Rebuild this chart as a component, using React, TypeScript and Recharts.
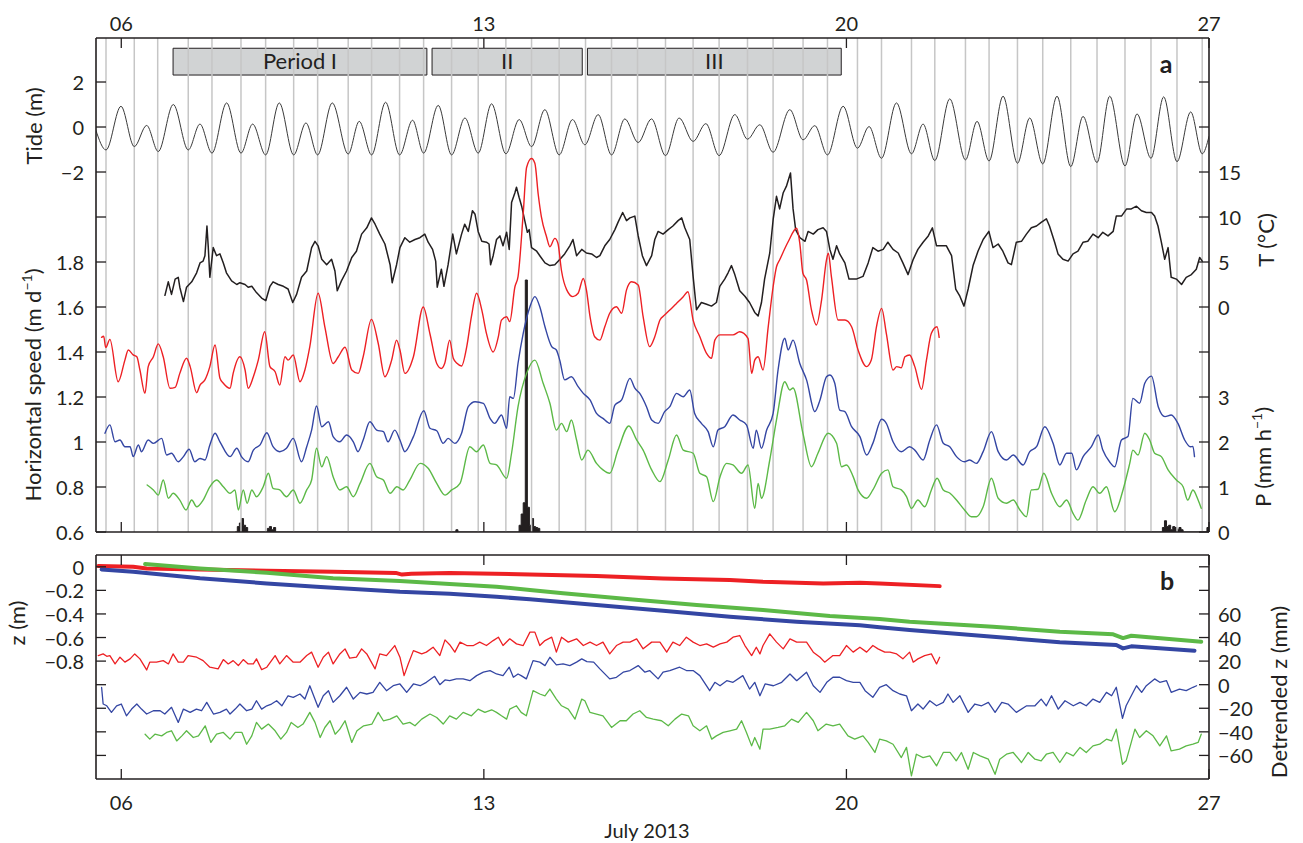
import React from 'react';
import { ComposedChart, Line, Area, XAxis, YAxis, ReferenceLine, ReferenceArea } from 'recharts';

const FONT = 'Lato, "Open Sans", sans-serif';
const INK = '#231f20';
const RED = '#ed2024';
const BLUE = '#3446a3';
const GREEN = '#5cb947';
const GRID = '#c6c6c6';

// x range (days of July 2013)
const X0 = 5.512;
const X1 = 27.0;
const dayTicks = [6, 13, 20, 27];

// low-tide times (gray vertical lines)
const lowTides = [5.705, 6.251, 6.703, 7.293, 7.751, 8.311, 8.787, 9.328, 9.791, 10.381, 10.833, 11.373, 11.837, 12.377, 12.891, 13.425, 13.921, 14.454, 14.963, 15.465, 15.967, 16.507, 17.04, 17.542, 18.09, 18.584, 19.163, 19.634, 20.213, 20.677, 21.256, 21.706, 22.298, 22.754, 23.302, 23.79, 24.331, 24.838, 25.378, 25.88, 26.382, 26.869];

const periodNames = ['Period I', 'II', 'III'];
const periodStart = [7.0, 12.0, 15.0];
const periodEnd = [11.9, 14.9, 19.9];

// tide extremes (day, m)
const tide: [number, number][] = [[5.506, -0.12], [5.705, -1.02], [5.994, 0.92], [6.251, -0.87], [6.49, 0.07], [6.714, -1.09], [7.004, 1.0], [7.293, -1.02], [7.519, 0.13], [7.751, -1.16], [8.034, 1.07], [8.311, -1.16], [8.536, 0.13], [8.787, -1.24], [9.05, 1.07], [9.328, -1.24], [9.565, 0.18], [9.791, -1.24], [10.073, 1.07], [10.381, -1.2], [10.594, 0.25], [10.833, -1.24], [11.103, 1.1], [11.373, -1.24], [11.624, 0.3], [11.837, -1.16], [12.119, 0.96], [12.377, -1.24], [12.634, 0.4], [12.891, -1.16], [13.149, 1.03], [13.425, -1.19], [13.682, 0.33], [13.921, -0.87], [14.178, 0.77], [14.454, -1.24], [14.712, 0.33], [14.95, -0.79], [15.207, 0.55], [15.465, -1.24], [15.722, 0.36], [15.979, -0.69], [16.237, 0.36], [16.507, -1.27], [16.77, 0.4], [17.04, -0.64], [17.286, 0.15], [17.542, -1.27], [17.845, 0.55], [18.09, -0.54], [18.328, 0.1], [18.584, -1.12], [18.907, 0.77], [19.163, -0.57], [19.389, 0.06], [19.634, -1.24], [19.936, 0.92], [20.213, -0.94], [20.437, 0.02], [20.677, -1.39], [20.966, 1.07], [21.256, -1.19], [21.48, 0.13], [21.706, -1.49], [21.995, 1.25], [22.298, -1.46], [22.522, 0.25], [22.754, -1.51], [23.024, 1.37], [23.302, -1.61], [23.539, 0.4], [23.79, -1.64], [24.066, 1.37], [24.331, -1.76], [24.568, 0.47], [24.838, -1.58], [25.083, 1.37], [25.378, -1.73], [25.61, 0.58], [25.88, -1.39], [26.125, 1.34], [26.382, -1.54], [26.647, 0.67], [26.869, -1.19], [27.0, -0.42]];

// water temperature (day, degC)
const temp: [number, number][] = [[6.843, 1.3], [6.907, 2.8], [6.97, 1.4], [7.04, 3.1], [7.1, 3.3], [7.13, 2.2], [7.2, 0.6], [7.26, 2.2], [7.36, 2.8], [7.455, 3.8], [7.52, 4.9], [7.58, 5.1], [7.615, 5.7], [7.654, 9.0], [7.68, 6.6], [7.71, 3.3], [7.775, 6.6], [7.84, 5.7], [7.905, 5.9], [7.97, 4.9], [8.03, 3.8], [8.13, 2.9], [8.23, 2.5], [8.29, 2.7], [8.39, 2.5], [8.45, 2.2], [8.52, 2.3], [8.61, 1.6], [8.71, 1.0], [8.79, 0.7], [8.87, 2.3], [8.93, 2.8], [9.03, 2.5], [9.13, 2.3], [9.22, 2.0], [9.31, 0.5], [9.385, 1.4], [9.48, 3.3], [9.58, 4.0], [9.675, 6.6], [9.74, 7.3], [9.8, 6.8], [9.87, 5.3], [9.965, 4.7], [10.06, 5.3], [10.125, 4.0], [10.17, 1.8], [10.25, 2.9], [10.35, 4.0], [10.45, 5.5], [10.54, 6.2], [10.64, 8.1], [10.74, 8.8], [10.83, 9.9], [10.9, 9.2], [10.99, 8.1], [11.09, 7.0], [11.19, 4.7], [11.23, 2.7], [11.315, 4.7], [11.38, 6.6], [11.475, 7.7], [11.57, 7.2], [11.67, 7.5], [11.765, 7.7], [11.86, 8.1], [11.925, 7.2], [12.01, 6.4], [12.07, 5.1], [12.1, 2.2], [12.18, 4.2], [12.23, 2.3], [12.31, 4.7], [12.4, 8.1], [12.47, 5.9], [12.57, 8.1], [12.63, 9.2], [12.7, 8.4], [12.78, 10.7], [12.83, 10.3], [12.89, 8.4], [12.96, 7.3], [13.05, 7.2], [13.1, 7.0], [13.13, 4.7], [13.18, 5.7], [13.245, 7.5], [13.31, 7.9], [13.37, 6.8], [13.44, 8.3], [13.49, 6.4], [13.535, 11.6], [13.6, 12.7], [13.63, 13.3], [13.68, 12.2], [13.73, 11.2], [13.79, 9.6], [13.84, 8.3], [13.875, 8.6], [13.92, 6.6], [14.02, 6.2], [14.08, 5.7], [14.18, 4.9], [14.275, 4.6], [14.37, 4.7], [14.47, 5.3], [14.56, 5.9], [14.66, 6.8], [14.72, 7.5], [14.79, 5.7], [14.89, 6.4], [14.98, 6.0], [15.08, 5.9], [15.175, 5.5], [15.24, 5.7], [15.335, 6.8], [15.43, 7.5], [15.53, 8.6], [15.59, 9.4], [15.68, 10.5], [15.755, 9.6], [15.82, 9.9], [15.915, 10.1], [15.98, 7.9], [16.06, 5.7], [16.14, 4.6], [16.24, 5.7], [16.3, 7.5], [16.365, 8.4], [16.46, 8.1], [16.56, 8.6], [16.65, 9.0], [16.75, 9.6], [16.82, 9.9], [16.88, 8.8], [16.975, 7.5], [17.04, 3.4], [17.105, -0.3], [17.2, 0.5], [17.3, 0.3], [17.395, 0.1], [17.49, 0.5], [17.555, 2.3], [17.65, 3.1], [17.715, 3.8], [17.78, 4.6], [17.845, 3.6], [17.94, 1.8], [18.04, 1.2], [18.13, 0.5], [18.23, -0.6], [18.295, -1.0], [18.36, 0.5], [18.42, 3.1], [18.52, 6.0], [18.585, 9.7], [18.65, 12.3], [18.71, 10.9], [18.78, 12.7], [18.84, 13.4], [18.92, 14.9], [18.97, 10.9], [19.02, 8.6], [19.1, 7.7], [19.2, 7.3], [19.26, 8.4], [19.36, 8.1], [19.45, 8.6], [19.55, 8.8], [19.615, 8.4], [19.68, 6.4], [19.74, 5.3], [19.81, 6.8], [19.87, 5.9], [19.97, 4.9], [20.05, 3.1], [20.19, 3.1], [20.32, 3.4], [20.42, 4.9], [20.51, 6.6], [20.61, 6.2], [20.71, 6.4], [20.8, 7.2], [20.9, 6.4], [21.0, 6.0], [21.09, 4.9], [21.19, 3.6], [21.29, 5.3], [21.38, 6.4], [21.48, 7.2], [21.58, 7.9], [21.66, 8.8], [21.74, 6.8], [21.83, 6.8], [21.93, 6.8], [22.03, 5.7], [22.11, 2.0], [22.19, 1.2], [22.27, 0.1], [22.35, 2.0], [22.445, 4.6], [22.54, 6.2], [22.64, 7.5], [22.75, 8.4], [22.83, 6.6], [22.93, 7.0], [23.02, 6.2], [23.12, 4.9], [23.185, 4.7], [23.28, 7.2], [23.38, 7.3], [23.475, 8.1], [23.57, 8.8], [23.67, 9.0], [23.76, 9.4], [23.86, 9.8], [23.92, 9.0], [24.02, 7.2], [24.085, 5.9], [24.18, 5.3], [24.28, 5.1], [24.375, 5.9], [24.47, 6.2], [24.57, 7.2], [24.66, 7.3], [24.76, 8.1], [24.86, 7.7], [24.95, 8.3], [25.05, 7.9], [25.15, 8.4], [25.21, 10.1], [25.31, 10.1], [25.41, 10.9], [25.5, 10.9], [25.6, 11.2], [25.695, 10.7], [25.79, 10.5], [25.89, 10.5], [25.95, 10.1], [26.015, 9.0], [26.08, 7.2], [26.145, 5.3], [26.21, 6.6], [26.27, 3.3], [26.37, 3.1], [26.47, 2.5], [26.56, 3.3], [26.66, 3.6], [26.755, 4.2], [26.82, 5.5], [26.87, 5.1]];

// horizontal speed (day, m/d)
const speedRed: [number, number][] = [[5.62, 1.465], [5.66, 1.47], [5.7, 1.42], [5.78, 1.456], [5.94, 1.268], [6.07, 1.364], [6.135, 1.409], [6.23, 1.387], [6.3, 1.379], [6.36, 1.32], [6.457, 1.216], [6.52, 1.335], [6.62, 1.379], [6.714, 1.436], [6.81, 1.379], [6.94, 1.239], [7.04, 1.243], [7.13, 1.305], [7.26, 1.372], [7.33, 1.335], [7.455, 1.219], [7.52, 1.253], [7.615, 1.276], [7.71, 1.335], [7.81, 1.431], [7.905, 1.283], [7.97, 1.261], [8.1, 1.239], [8.16, 1.305], [8.29, 1.379], [8.39, 1.32], [8.45, 1.239], [8.55, 1.29], [8.645, 1.364], [8.77, 1.49], [8.87, 1.335], [8.97, 1.312], [9.06, 1.253], [9.16, 1.379], [9.22, 1.364], [9.32, 1.387], [9.45, 1.268], [9.545, 1.32], [9.64, 1.424], [9.8, 1.661], [9.93, 1.512], [10.09, 1.349], [10.19, 1.379], [10.32, 1.421], [10.45, 1.32], [10.575, 1.305], [10.67, 1.379], [10.83, 1.545], [10.96, 1.439], [11.09, 1.29], [11.22, 1.364], [11.315, 1.453], [11.38, 1.409], [11.475, 1.305], [11.64, 1.379], [11.83, 1.6], [11.96, 1.48], [12.09, 1.349], [12.18, 1.327], [12.245, 1.35], [12.34, 1.453], [12.41, 1.372], [12.48, 1.35], [12.57, 1.338], [12.67, 1.424], [12.76, 1.557], [12.86, 1.661], [12.96, 1.587], [13.05, 1.483], [13.18, 1.4], [13.28, 1.468], [13.34, 1.542], [13.44, 1.557], [13.5, 1.535], [13.6, 1.69], [13.66, 1.735], [13.76, 2.016], [13.825, 2.22], [13.92, 2.26], [13.985, 2.239], [14.05, 2.1], [14.11, 2.002], [14.21, 1.912], [14.275, 1.868], [14.37, 1.905], [14.43, 1.883], [14.5, 1.76], [14.6, 1.676], [14.72, 1.646], [14.82, 1.661], [14.92, 1.727], [14.98, 1.676], [15.05, 1.557], [15.14, 1.468], [15.24, 1.453], [15.335, 1.512], [15.43, 1.572], [15.56, 1.601], [15.66, 1.572], [15.755, 1.676], [15.85, 1.712], [15.98, 1.698], [16.075, 1.557], [16.2, 1.424], [16.3, 1.468], [16.4, 1.542], [16.49, 1.564], [16.59, 1.587], [16.72, 1.616], [16.85, 1.646], [16.94, 1.668], [17.04, 1.542], [17.17, 1.468], [17.3, 1.394], [17.395, 1.372], [17.46, 1.453], [17.56, 1.476], [17.685, 1.476], [17.81, 1.476], [17.94, 1.49], [18.1, 1.461], [18.17, 1.305], [18.23, 1.364], [18.295, 1.379], [18.39, 1.32], [18.49, 1.512], [18.585, 1.69], [18.65, 1.779], [18.71, 1.809], [18.875, 1.89], [19.04, 1.95], [19.1, 1.883], [19.16, 1.75], [19.23, 1.72], [19.325, 1.587], [19.42, 1.52], [19.52, 1.631], [19.615, 1.809], [19.65, 1.839], [19.71, 1.735], [19.84, 1.542], [19.97, 1.542], [20.1, 1.512], [20.225, 1.409], [20.39, 1.335], [20.48, 1.364], [20.58, 1.512], [20.68, 1.594], [20.77, 1.483], [20.9, 1.32], [20.97, 1.335], [21.06, 1.33], [21.13, 1.379], [21.22, 1.387], [21.32, 1.335], [21.45, 1.234], [21.545, 1.364], [21.64, 1.483], [21.75, 1.512], [21.79, 1.465]];

const speedBlue: [number, number][] = [[5.685, 1.039], [5.78, 1.076], [5.88, 1.001], [5.975, 1.009], [6.07, 0.979], [6.17, 0.979], [6.23, 0.935], [6.33, 0.987], [6.39, 0.957], [6.52, 1.009], [6.62, 0.994], [6.78, 1.016], [6.875, 0.942], [6.97, 0.95], [7.1, 0.912], [7.2, 0.935], [7.31, 0.968], [7.42, 0.912], [7.52, 0.927], [7.615, 0.92], [7.71, 0.987], [7.81, 1.039], [7.905, 1.001], [8.1, 0.935], [8.23, 0.972], [8.32, 0.935], [8.45, 0.912], [8.55, 0.964], [8.68, 0.987], [8.81, 1.041], [8.93, 0.979], [9.06, 0.957], [9.19, 0.972], [9.32, 1.016], [9.48, 0.912], [9.58, 0.979], [9.675, 1.053], [9.77, 1.16], [9.87, 1.068], [10.0, 1.09], [10.09, 1.024], [10.22, 1.001], [10.35, 1.031], [10.48, 1.001], [10.57, 0.957], [10.67, 1.009], [10.8, 1.09], [10.93, 1.053], [11.06, 1.046], [11.15, 1.001], [11.28, 1.053], [11.38, 1.009], [11.475, 0.957], [11.64, 1.024], [11.84, 1.139], [11.96, 1.061], [12.09, 1.05], [12.215, 0.994], [12.31, 1.016], [12.44, 0.994], [12.57, 1.039], [12.7, 1.157], [12.83, 1.179], [12.99, 1.172], [13.12, 1.105], [13.21, 1.083], [13.34, 1.12], [13.44, 1.061], [13.5, 1.201], [13.57, 1.194], [13.66, 1.35], [13.76, 1.483], [13.89, 1.601], [13.985, 1.646], [14.08, 1.601], [14.18, 1.512], [14.31, 1.424], [14.4, 1.409], [14.465, 1.364], [14.56, 1.276], [14.69, 1.29], [14.82, 1.246], [14.92, 1.216], [15.05, 1.187], [15.175, 1.127], [15.3, 1.105], [15.43, 1.083], [15.53, 1.164], [15.66, 1.187], [15.82, 1.283], [15.915, 1.239], [16.01, 1.216], [16.14, 1.157], [16.24, 1.098], [16.365, 1.083], [16.49, 1.135], [16.59, 1.157], [16.72, 1.216], [16.85, 1.201], [16.975, 1.231], [17.07, 1.127], [17.2, 1.083], [17.33, 1.046], [17.43, 0.979], [17.52, 1.053], [17.65, 1.068], [17.81, 1.12], [17.94, 1.098], [18.07, 1.076], [18.2, 0.972], [18.26, 1.053], [18.36, 0.972], [18.46, 1.053], [18.585, 1.127], [18.68, 1.32], [18.81, 1.461], [18.875, 1.409], [18.97, 1.453], [19.1, 1.349], [19.23, 1.276], [19.39, 1.135], [19.49, 1.187], [19.615, 1.29], [19.68, 1.298], [19.775, 1.261], [19.87, 1.142], [19.97, 1.135], [20.1, 1.068], [20.26, 1.024], [20.39, 0.942], [20.51, 0.994], [20.68, 1.101], [20.77, 1.083], [20.9, 1.001], [21.06, 0.957], [21.22, 0.979], [21.32, 0.964], [21.48, 0.92], [21.61, 1.009], [21.74, 1.076], [21.87, 0.994], [21.995, 0.979], [22.125, 0.935], [22.28, 0.912], [22.38, 0.92], [22.51, 0.905], [22.64, 0.957], [22.8, 1.046], [22.93, 0.957], [23.09, 0.92], [23.22, 0.942], [23.41, 0.898], [23.54, 0.957], [23.67, 0.979], [23.83, 1.068], [23.99, 0.994], [24.12, 0.898], [24.25, 0.95], [24.35, 0.95], [24.44, 0.876], [24.57, 0.935], [24.73, 0.979], [24.86, 1.031], [24.95, 0.964], [25.08, 0.912], [25.18, 0.89], [25.31, 1.009], [25.435, 1.024], [25.53, 1.194], [25.66, 1.172], [25.76, 1.261], [25.89, 1.293], [26.02, 1.157], [26.15, 1.113], [26.27, 1.12], [26.4, 1.083], [26.53, 1.009], [26.64, 0.979], [26.69, 0.98], [26.72, 0.935]];

const speedGreen: [number, number][] = [[6.5, 0.809], [6.62, 0.787], [6.714, 0.764], [6.81, 0.831], [6.91, 0.75], [7.0, 0.772], [7.13, 0.742], [7.25, 0.698], [7.36, 0.742], [7.455, 0.712], [7.58, 0.742], [7.71, 0.801], [7.84, 0.831], [7.97, 0.801], [8.1, 0.772], [8.195, 0.787], [8.26, 0.698], [8.355, 0.787], [8.43, 0.728], [8.52, 0.787], [8.61, 0.757], [8.74, 0.801], [8.84, 0.861], [8.93, 0.794], [9.06, 0.787], [9.19, 0.757], [9.32, 0.787], [9.45, 0.728], [9.58, 0.787], [9.675, 0.831], [9.77, 0.972], [9.87, 0.89], [9.965, 0.935], [10.09, 0.846], [10.22, 0.787], [10.35, 0.801], [10.48, 0.757], [10.61, 0.816], [10.8, 0.905], [10.93, 0.846], [11.06, 0.831], [11.19, 0.772], [11.32, 0.801], [11.44, 0.787], [11.57, 0.831], [11.77, 0.905], [11.925, 0.883], [12.09, 0.816], [12.25, 0.764], [12.38, 0.787], [12.54, 0.816], [12.73, 0.979], [12.86, 0.957], [12.99, 0.987], [13.12, 0.905], [13.245, 0.898], [13.44, 0.839], [13.535, 0.95], [13.66, 1.157], [13.825, 1.305], [13.985, 1.364], [14.145, 1.261], [14.275, 1.172], [14.4, 1.053], [14.5, 1.083], [14.6, 1.046], [14.69, 1.098], [14.79, 1.009], [14.89, 0.92], [15.01, 0.964], [15.175, 0.905], [15.3, 0.876], [15.43, 0.861], [15.59, 0.964], [15.8, 1.071], [15.95, 1.009], [16.075, 0.964], [16.24, 0.876], [16.4, 0.824], [16.56, 0.92], [16.72, 1.031], [16.85, 0.964], [17.04, 0.95], [17.17, 0.861], [17.3, 0.846], [17.43, 0.735], [17.56, 0.846], [17.685, 0.905], [17.81, 0.898], [17.975, 0.861], [18.1, 0.898], [18.23, 0.705], [18.295, 0.816], [18.36, 0.75], [18.52, 0.92], [18.65, 1.098], [18.81, 1.268], [18.905, 1.231], [18.97, 1.24], [19.16, 1.039], [19.325, 0.89], [19.45, 0.95], [19.645, 1.039], [19.81, 0.994], [19.905, 0.89], [20.0, 0.898], [20.13, 0.846], [20.225, 0.787], [20.39, 0.75], [20.51, 0.787], [20.68, 0.861], [20.8, 0.876], [20.9, 0.801], [21.06, 0.787], [21.16, 0.757], [21.255, 0.705], [21.38, 0.742], [21.51, 0.712], [21.64, 0.787], [21.75, 0.839], [21.87, 0.787], [22.0, 0.772], [22.125, 0.742], [22.28, 0.698], [22.41, 0.668], [22.51, 0.668], [22.64, 0.712], [22.8, 0.839], [22.93, 0.75], [23.09, 0.728], [23.22, 0.742], [23.35, 0.698], [23.475, 0.668], [23.57, 0.787], [23.7, 0.79], [23.81, 0.861], [23.96, 0.772], [24.12, 0.712], [24.25, 0.742], [24.375, 0.683], [24.47, 0.653], [24.63, 0.742], [24.76, 0.801], [24.89, 0.772], [25.02, 0.801], [25.18, 0.69], [25.34, 0.787], [25.47, 0.905], [25.53, 0.964], [25.63, 0.942], [25.76, 1.039], [25.855, 1.009], [25.95, 0.95], [26.08, 0.935], [26.21, 0.876], [26.37, 0.831], [26.5, 0.801], [26.59, 0.742], [26.69, 0.787], [26.79, 0.742], [26.85, 0.705]];

// precipitation, hourly steps (day, mm/h)
const rain: [number, number][] = [[8.2, 0], [8.24, 0.12], [8.28, 0.2], [8.32, 0.3], [8.36, 0.15], [8.4, 0.1], [8.44, 0], [8.82, 0.08], [8.86, 0.12], [8.9, 0.05], [8.94, 0.1], [8.98, 0], [12.46, 0.05], [12.5, 0], [13.68, 0.15], [13.72, 0.4], [13.76, 0.65], [13.8, 5.6], [13.84, 0.55], [13.88, 0.15], [13.92, 0.3], [13.96, 0.12], [14.0, 0.1], [14.04, 0.08], [14.08, 0], [26.1, 0.1], [26.14, 0.25], [26.18, 0.12], [26.22, 0.15], [26.26, 0.05], [26.3, 0.12], [26.34, 0.1], [26.38, 0.05], [26.42, 0.1], [26.46, 0.05], [26.5, 0], [26.96, 0.1], [27.0, 0]];

// panel b: surface elevation z (day, m)
const zRed: [number, number][] = [[5.556, 0.006], [6.23, 0.0], [6.49, -0.014], [7.52, -0.022], [8.81, -0.034], [10.09, -0.042], [11.3, -0.052], [11.42, -0.066], [11.6, -0.06], [12.34, -0.052], [13.89, -0.065], [15.175, -0.079], [16.46, -0.099], [17.75, -0.113], [18.39, -0.127], [19.55, -0.141], [20.26, -0.136], [20.64, -0.141], [21.8, -0.164]];
const zGreen: [number, number][] = [[6.46, 0.023], [7.52, -0.014], [8.81, -0.051], [10.09, -0.098], [11.38, -0.12], [12.34, -0.145], [13.245, -0.169], [13.89, -0.197], [14.53, -0.225], [15.82, -0.276], [17.11, -0.325], [18.39, -0.367], [19.68, -0.418], [20.64, -0.443], [21.22, -0.466], [22.83, -0.508], [24.12, -0.551], [25.15, -0.573], [25.34, -0.605], [25.5, -0.585], [26.85, -0.636]];
const zBlue: [number, number][] = [[5.62, -0.022], [6.23, -0.042], [7.52, -0.098], [8.81, -0.141], [9.77, -0.169], [11.38, -0.212], [12.34, -0.228], [13.245, -0.254], [13.89, -0.276], [15.175, -0.325], [16.46, -0.373], [17.75, -0.424], [19.04, -0.466], [20.26, -0.495], [20.64, -0.512], [21.22, -0.536], [22.83, -0.593], [24.12, -0.641], [25.21, -0.664], [25.34, -0.692], [25.5, -0.675], [26.72, -0.712]];

// panel b: detrended z (day, mm)
const detRed: [number, number][] = [[5.556, 24.7], [5.65, 26.1], [5.72, 24.1], [5.78, 24.7], [5.88, 17.6], [5.975, 23.3], [6.07, 19.1], [6.17, 21.9], [6.26, 26.1], [6.36, 21.9], [6.49, 12.5], [6.55, 19.1], [6.68, 19.1], [6.81, 20.4], [6.91, 17.6], [7.0, 26.1], [7.1, 19.1], [7.2, 19.1], [7.29, 24.7], [7.455, 23.3], [7.58, 20.4], [7.71, 14.8], [7.87, 13.4], [7.97, 21.3], [8.065, 17.6], [8.16, 20.4], [8.26, 16.2], [8.355, 21.3], [8.45, 17.6], [8.55, 17.6], [8.61, 21.9], [8.71, 12.8], [8.81, 14.8], [8.97, 24.7], [9.06, 17.6], [9.19, 24.7], [9.32, 19.1], [9.45, 19.1], [9.58, 24.7], [9.675, 27.6], [9.8, 14.8], [9.9, 23.3], [10.0, 27.6], [10.09, 17.6], [10.22, 26.1], [10.32, 30.4], [10.41, 22.5], [10.54, 23.3], [10.64, 30.4], [10.74, 26.1], [10.9, 13.4], [10.99, 26.1], [11.12, 24.7], [11.28, 33.2], [11.38, 23.3], [11.46, 7.7], [11.54, 17.6], [11.64, 28.9], [11.8, 26.1], [11.89, 27.6], [12.02, 31.8], [12.15, 24.7], [12.25, 38.0], [12.34, 33.9], [12.44, 27.6], [12.54, 36.1], [12.67, 33.2], [12.8, 33.2], [12.92, 36.1], [13.05, 33.2], [13.18, 37.4], [13.28, 40.3], [13.37, 33.2], [13.5, 38.9], [13.63, 34.6], [13.76, 33.2], [13.89, 44.6], [13.985, 44.6], [14.08, 33.2], [14.18, 37.4], [14.31, 40.3], [14.4, 27.6], [14.5, 40.3], [14.63, 36.1], [14.79, 38.9], [14.92, 33.2], [15.05, 36.1], [15.175, 33.2], [15.3, 36.1], [15.43, 26.1], [15.56, 33.2], [15.69, 36.1], [15.82, 36.1], [15.95, 38.9], [16.075, 30.4], [16.24, 36.1], [16.4, 36.1], [16.53, 27.6], [16.65, 36.1], [16.78, 33.2], [16.91, 40.3], [17.04, 36.1], [17.17, 33.2], [17.3, 34.6], [17.43, 31.8], [17.56, 34.6], [17.69, 36.1], [17.81, 40.3], [17.94, 41.7], [18.04, 33.2], [18.17, 24.7], [18.26, 31.8], [18.33, 26.1], [18.39, 33.2], [18.52, 43.1], [18.65, 36.1], [18.78, 30.4], [18.91, 38.9], [19.04, 36.1], [19.23, 36.1], [19.36, 27.6], [19.49, 23.3], [19.58, 19.1], [19.74, 24.7], [19.87, 24.7], [20.0, 33.2], [20.13, 27.6], [20.26, 31.8], [20.39, 27.6], [20.51, 33.2], [20.61, 30.4], [20.74, 27.6], [20.84, 27.6], [20.97, 26.1], [21.09, 21.9], [21.22, 27.6], [21.29, 19.1], [21.38, 21.9], [21.51, 24.7], [21.64, 26.1], [21.74, 17.6], [21.8, 23.3]];

const detBlue: [number, number][] = [[5.62, -2.2], [5.65, -16.4], [5.72, -17.9], [5.81, -23.5], [5.91, -17.9], [6.0, -16.4], [6.1, -26.4], [6.2, -20.7], [6.3, -16.4], [6.39, -20.7], [6.49, -24.9], [6.62, -22.1], [6.75, -22.1], [6.84, -24.9], [6.97, -19.2], [7.1, -32.0], [7.2, -20.7], [7.33, -23.5], [7.45, -20.7], [7.55, -22.1], [7.65, -15.0], [7.78, -24.9], [7.905, -23.5], [8.03, -20.7], [8.1, -24.9], [8.2, -20.7], [8.29, -16.4], [8.42, -22.1], [8.52, -20.7], [8.61, -13.6], [8.71, -20.7], [8.81, -17.9], [8.9, -16.4], [9.0, -13.6], [9.1, -17.9], [9.22, -9.4], [9.32, -10.7], [9.45, -7.9], [9.545, -12.2], [9.64, -0.9], [9.8, -19.2], [9.9, -9.4], [10.0, -5.1], [10.09, -15.0], [10.22, -9.4], [10.35, -2.2], [10.48, -12.2], [10.61, -6.5], [10.74, -7.9], [10.86, -6.5], [10.99, 2.0], [11.12, -5.1], [11.25, -0.9], [11.38, 0.6], [11.51, -6.5], [11.64, 0.6], [11.77, -0.9], [11.89, 2.0], [12.05, 7.1], [12.15, 0.0], [12.25, 4.0], [12.34, 3.4], [12.47, 4.9], [12.6, 4.9], [12.73, 3.4], [12.86, 7.7], [12.99, 10.6], [13.12, 11.9], [13.245, 9.1], [13.37, 7.7], [13.49, 14.8], [13.57, 6.3], [13.66, 9.1], [13.72, 7.7], [13.82, 4.9], [13.95, 20.4], [14.08, 19.1], [14.18, 16.2], [14.275, 23.3], [14.4, 16.8], [14.53, 17.6], [14.66, 16.2], [14.79, 19.1], [14.89, 21.9], [14.99, 19.6], [15.12, 19.1], [15.24, 13.4], [15.43, 4.9], [15.56, 6.3], [15.69, 10.6], [15.82, 12.0], [15.98, 16.2], [16.11, 10.6], [16.2, 12.0], [16.365, 4.9], [16.46, 10.6], [16.59, 12.0], [16.78, 14.8], [16.91, 12.0], [17.04, 12.0], [17.17, 7.7], [17.36, -5.1], [17.46, 2.0], [17.56, -0.9], [17.69, 3.4], [17.81, 2.0], [18.0, 7.7], [18.13, -3.7], [18.23, 2.0], [18.33, -9.4], [18.43, 0.6], [18.59, -0.9], [18.75, 2.0], [18.91, 9.1], [19.04, 3.4], [19.23, 10.6], [19.36, -0.9], [19.49, -6.5], [19.62, 2.0], [19.74, 6.3], [19.87, 6.3], [20.0, 3.4], [20.13, 2.0], [20.26, 2.0], [20.36, -5.1], [20.51, -10.7], [20.64, -2.2], [20.77, 0.0], [20.9, -5.1], [21.03, -7.9], [21.16, -9.4], [21.255, -22.1], [21.38, -16.4], [21.48, -20.7], [21.61, -13.6], [21.74, -17.9], [21.87, -15.0], [21.96, -7.9], [22.06, -15.0], [22.19, -9.4], [22.35, -23.5], [22.48, -16.4], [22.61, -17.9], [22.74, -15.0], [22.87, -23.5], [23.0, -15.0], [23.12, -16.4], [23.28, -23.5], [23.48, -17.9], [23.64, -17.9], [23.76, -12.2], [23.86, -17.9], [23.96, -9.4], [24.09, -20.7], [24.22, -13.6], [24.38, -17.9], [24.51, -15.0], [24.63, -17.9], [24.76, -12.2], [24.89, -15.0], [25.02, -6.5], [25.12, -9.4], [25.21, -2.2], [25.33, -28.6], [25.4, -17.9], [25.6, -0.9], [25.7, -6.5], [25.79, -0.9], [25.95, 4.9], [26.05, 2.0], [26.18, 3.4], [26.27, -6.5], [26.43, -3.7], [26.56, -5.1], [26.69, -2.2], [26.76, -0.9]];

const detGreen: [number, number][] = [[6.46, -42.0], [6.55, -46.2], [6.65, -42.0], [6.78, -43.4], [6.875, -40.5], [6.97, -39.1], [7.07, -47.7], [7.17, -43.4], [7.26, -39.1], [7.39, -44.8], [7.49, -43.4], [7.62, -34.9], [7.73, -49.0], [7.84, -42.0], [7.97, -40.5], [8.1, -46.2], [8.2, -40.5], [8.33, -40.5], [8.42, -50.5], [8.52, -43.4], [8.61, -32.0], [8.71, -37.7], [8.84, -33.4], [8.97, -39.1], [9.08, -46.2], [9.19, -40.5], [9.28, -32.0], [9.41, -36.3], [9.51, -33.4], [9.64, -23.5], [9.74, -32.0], [9.84, -44.8], [9.93, -36.3], [10.03, -30.6], [10.13, -42.0], [10.22, -37.7], [10.32, -30.6], [10.45, -49.0], [10.55, -39.1], [10.68, -34.9], [10.84, -33.4], [10.96, -23.5], [11.06, -30.6], [11.19, -29.2], [11.32, -26.4], [11.44, -33.4], [11.57, -32.0], [11.67, -34.9], [11.8, -29.2], [11.96, -24.9], [12.09, -27.8], [12.215, -33.4], [12.34, -26.4], [12.47, -29.2], [12.6, -23.5], [12.76, -26.4], [12.89, -20.7], [13.02, -23.5], [13.15, -21.3], [13.245, -23.5], [13.34, -26.4], [13.44, -29.2], [13.5, -20.7], [13.63, -17.9], [13.72, -23.5], [13.82, -26.4], [13.95, -5.1], [14.08, -7.9], [14.18, -9.4], [14.275, -3.7], [14.4, -12.2], [14.5, -17.9], [14.63, -20.7], [14.76, -29.2], [14.89, -12.2], [14.95, -13.6], [15.05, -23.5], [15.175, -24.9], [15.3, -26.4], [15.465, -36.3], [15.63, -30.6], [15.75, -30.6], [15.88, -24.9], [16.01, -22.1], [16.14, -27.8], [16.27, -29.2], [16.43, -30.6], [16.56, -34.9], [16.69, -29.2], [16.82, -24.9], [16.95, -26.4], [17.04, -34.9], [17.17, -39.1], [17.3, -34.9], [17.4, -46.2], [17.49, -43.4], [17.62, -40.5], [17.75, -39.1], [17.88, -37.7], [17.975, -30.6], [18.07, -40.5], [18.17, -51.9], [18.23, -44.8], [18.33, -54.7], [18.39, -37.7], [18.52, -37.7], [18.68, -36.3], [18.81, -34.9], [18.94, -29.2], [19.07, -32.0], [19.23, -23.5], [19.36, -30.6], [19.45, -39.1], [19.61, -33.4], [19.74, -34.9], [19.87, -33.4], [20.03, -43.4], [20.16, -46.2], [20.32, -43.4], [20.42, -49.0], [20.55, -57.5], [20.64, -46.2], [20.77, -47.7], [20.9, -50.5], [21.06, -61.8], [21.16, -53.2], [21.255, -77.4], [21.35, -59.0], [21.48, -61.8], [21.61, -60.4], [21.74, -68.9], [21.87, -57.5], [22.0, -57.5], [22.12, -64.6], [22.22, -57.5], [22.35, -71.7], [22.45, -57.5], [22.58, -60.4], [22.74, -63.2], [22.87, -76.0], [22.96, -63.2], [23.09, -59.0], [23.22, -57.5], [23.38, -66.0], [23.51, -57.5], [23.64, -63.2], [23.76, -64.6], [23.86, -59.0], [23.99, -57.5], [24.12, -66.0], [24.25, -57.5], [24.38, -60.4], [24.51, -53.2], [24.63, -57.5], [24.76, -51.9], [24.89, -50.5], [25.02, -46.2], [25.12, -47.7], [25.21, -37.7], [25.33, -67.5], [25.4, -64.6], [25.57, -37.7], [25.66, -44.8], [25.79, -39.1], [25.92, -43.4], [26.05, -51.9], [26.18, -43.4], [26.27, -56.2], [26.43, -54.7], [26.56, -51.9], [26.69, -50.5], [26.79, -49.0], [26.85, -42.0]];

// axis ticks
const speedTicks = [0.6, 0.8, 1, 1.2, 1.4, 1.6, 1.8, 2.0];
const tideTicks = [-2, 0, 2];
const rainTicks = [0, 1, 2, 3];
const tempTicks = [-5, 0, 5, 10, 15, 20, 25];
const zTicks = [0, -0.2, -0.4, -0.6, -0.8, -1.0, -1.2, -1.4, -1.6];
const detTicks = [-60, -40, -20, 0, 20, 40, 60, 80, 100];

// shared scales of panel a: tide and temperature share the speed / rain axes
const tideToSpeed = (t: number) => 2.4 + t / 10;
const tempToRain = (t: number) => 5 + t / 5;

const pts = (a: [number, number][]) => a.map(([d, v]) => ({ d, v }));
const minus = (s: string) => s.replace('-', '\u2212');

const txt = { fontFamily: FONT, fontSize: 20, fill: INK };
const TL = 10;

const leftTick = (fmt: (v: number) => string, gap: number) => (p: any) => (
  <g>
    <line x1={p.x + gap} x2={p.x + gap + TL} y1={p.y} y2={p.y} stroke={INK} strokeWidth={1.3} />
    <text x={p.x} y={p.y} textAnchor="end" dominantBaseline="central" {...txt}>{fmt(p.payload.value)}</text>
  </g>
);
const rightTick = (fmt: (v: number) => string, gap: number) => (p: any) => (
  <g>
    <line x1={p.x - gap} x2={p.x - gap - TL} y1={p.y} y2={p.y} stroke={INK} strokeWidth={1.3} />
    <text x={p.x} y={p.y} textAnchor="start" dominantBaseline="central" {...txt}>{fmt(p.payload.value)}</text>
  </g>
);
const topTick = (show: boolean, gap: number) => (p: any) => (
  <g>
    <line x1={p.x} x2={p.x} y1={p.y + gap} y2={p.y + gap + TL} stroke={INK} strokeWidth={1.3} />
    {show && <text x={p.x} y={p.y} textAnchor="middle" dominantBaseline="central" {...txt}>{String(p.payload.value).padStart(2, '0')}</text>}
  </g>
);
const bottomTick = (show: boolean, gap: number) => (p: any) => (
  <g>
    <line x1={p.x} x2={p.x} y1={p.y - gap} y2={p.y - gap - TL} stroke={INK} strokeWidth={1.3} />
    {show && <text x={p.x} y={p.y} textAnchor="middle" dominantBaseline="central" {...txt}>{String(p.payload.value).padStart(2, '0')}</text>}
  </g>
);

const fmtSpeedTide = (v: number) => {
  if (v < 1.9) return Math.abs(v - 1) < 1e-6 ? '1' : v.toFixed(1);
  const t = Math.round((v - 2.4) * 10);
  if (!tideTicks.includes(t)) return '';
  return minus(String(t));
};
const fmtRainTemp = (v: number) => {
  if (v < 3.5) return String(v);
  const t = Math.round((v - 5) * 5);
  return t >= 0 && t <= 15 ? String(t) : '';
};
const fmtZ = (v: number) => (v >= -0.81 ? minus(v === 0 ? '0' : v.toFixed(1)) : '');
const fmtDet = (v: number) => (v <= 60 ? minus(String(v)) : '');

const axisLine = { stroke: INK, strokeWidth: 1.6 };

function Title({ x, y, rotate, children, size = 22, bold = false }: any) {
  return (
    <div style={{
      position: 'absolute', left: x, top: y, transform: `translate(-50%, -50%)${rotate ? ' rotate(-90deg)' : ''}`,
      whiteSpace: 'nowrap', fontFamily: FONT, fontSize: size, fontWeight: bold ? 700 : 400, color: INK, lineHeight: 1,
    }}>{children}</div>
  );
}

export default function App() {
  const speedAxisTicks = [...speedTicks, ...tideTicks.map(tideToSpeed)];
  const rightAxisTicks = [...rainTicks, ...tempTicks.map(tempToRain)];
  const line = (data: [number, number][], color: string, yId: string, w: number, type: any = 'linear') => (
    <Line xAxisId="t" yAxisId={yId} data={pts(data)} dataKey="v" type={type} stroke={color} strokeWidth={w}
      dot={false} activeDot={false} isAnimationActive={false} strokeLinejoin="round" strokeLinecap="round" />
  );

  return (
    <div style={{ position: 'absolute', left: 0, top: 0, width: 1303, height: 843, background: '#fff' }}>
      <div style={{ position: 'absolute', left: 0, top: 0 }}>
        <ComposedChart width={1303} height={545} margin={{ top: 0, right: 0, bottom: 0, left: 0 }}>
          <XAxis xAxisId="t" orientation="top" type="number" dataKey="d" domain={[X0, X1]} allowDataOverflow ticks={dayTicks}
            height={38} tickSize={0} tickMargin={15} tickLine={false} axisLine={axisLine} tick={topTick(true, 15)} interval={0} />
          <XAxis xAxisId="b" orientation="bottom" type="number" dataKey="d" domain={[X0, X1]} allowDataOverflow ticks={dayTicks}
            height={13} tickSize={0} tickMargin={0} tickLine={false} axisLine={axisLine} tick={bottomTick(false, 0)} interval={0} />
          <YAxis yAxisId="spd" orientation="left" type="number" domain={[0.6, 2.7956]} allowDataOverflow ticks={speedAxisTicks}
            width={96} tickSize={0} tickMargin={12} tickLine={false} axisLine={axisLine} tick={leftTick(fmtSpeedTide, 12)} interval={0} />
          <YAxis yAxisId="tide" hide type="number" domain={[-18, 3.956]} allowDataOverflow />
          <YAxis yAxisId="p" orientation="right" type="number" domain={[0, 10.978]} allowDataOverflow ticks={rightAxisTicks}
            width={94} tickSize={0} tickMargin={9} tickLine={false} axisLine={axisLine} tick={rightTick(fmtRainTemp, 9)} interval={0} />
          <YAxis yAxisId="temp" orientation="right" hide type="number" domain={[-25, 29.89]} allowDataOverflow />

          {lowTides.map((d) => (
            <ReferenceLine key={d} xAxisId="t" yAxisId="spd" x={d} stroke={GRID} strokeWidth={1.5} />
          ))}
          {periodNames.map((n, i) => (
            <ReferenceArea key={n} xAxisId="t" yAxisId="tide" x1={periodStart[i]} x2={periodEnd[i]} y1={2.31} y2={3.5}
              fill="#d1d3d4" fillOpacity={1} stroke={INK} strokeWidth={1}
              label={{ value: n, position: 'center', fill: INK, fontSize: 22, fontFamily: FONT }} />
          ))}

          <Area xAxisId="t" yAxisId="p" data={pts(rain)} dataKey="v" type="stepAfter" stroke={INK} strokeWidth={1}
            fill={INK} fillOpacity={1} dot={false} activeDot={false} isAnimationActive={false} />
          {line(tide, '#3a3a3a', 'tide', 1, 'monotone')}
          {line(temp, INK, 'temp', 1.5)}
          {line(speedRed, RED, 'spd', 1.4, 'monotone')}
          {line(speedBlue, BLUE, 'spd', 1.4, 'monotone')}
          {line(speedGreen, GREEN, 'spd', 1.4, 'monotone')}
        </ComposedChart>
      </div>

      <div style={{ position: 'absolute', left: 0, top: 545 }}>
        <ComposedChart width={1303} height={298} margin={{ top: 0, right: 0, bottom: 0, left: 0 }}>
          <XAxis xAxisId="t" orientation="top" type="number" dataKey="d" domain={[X0, X1]} allowDataOverflow ticks={dayTicks}
            height={10} tickSize={0} tickMargin={0} tickLine={false} axisLine={axisLine} tick={topTick(false, 0)} interval={0} />
          <XAxis xAxisId="b" orientation="bottom" type="number" dataKey="d" domain={[X0, X1]} allowDataOverflow ticks={dayTicks}
            height={64} tickSize={0} tickMargin={23} tickLine={false} axisLine={axisLine} tick={bottomTick(true, 23)} interval={0} />
          <YAxis yAxisId="z" orientation="left" type="number" domain={[-1.8, 0.1]} allowDataOverflow ticks={zTicks}
            width={96} tickSize={0} tickMargin={12} tickLine={false} axisLine={axisLine} tick={leftTick(fmtZ, 12)} interval={0} />
          <YAxis yAxisId="det" orientation="right" type="number" domain={[-80, 110]} allowDataOverflow ticks={detTicks}
            width={94} tickSize={0} tickMargin={9} tickLine={false} axisLine={axisLine} tick={rightTick(fmtDet, 9)} interval={0} />

          {line(detRed, RED, 'det', 1.3)}
          {line(detBlue, BLUE, 'det', 1.3)}
          {line(detGreen, GREEN, 'det', 1.3)}
          {line(zRed, RED, 'z', 4)}
          {line(zGreen, GREEN, 'z', 4)}
          {line(zBlue, BLUE, 'z', 4)}
        </ComposedChart>
      </div>

      <Title x={34} y={126} rotate>Tide (m)</Title>
      <Title x={32} y={385} rotate>Horizontal speed (m d<sup style={{ fontSize: 14 }}>{'\u2212'}1</sup>)</Title>
      <Title x={1266} y={240} rotate>T (°C)</Title>
      <Title x={1262} y={457} rotate>P (mm h<sup style={{ fontSize: 14 }}>{'\u2212'}1</sup>)</Title>
      <Title x={17} y={623} rotate>z (m)</Title>
      <Title x={1279} y={692} rotate>Detrended z (mm)</Title>
      <Title x={647} y={830} size={20}>July 2013</Title>
      <Title x={1166} y={63} size={25} bold>a</Title>
      <Title x={1167} y={580} size={25} bold>b</Title>
    </div>
  );
}
